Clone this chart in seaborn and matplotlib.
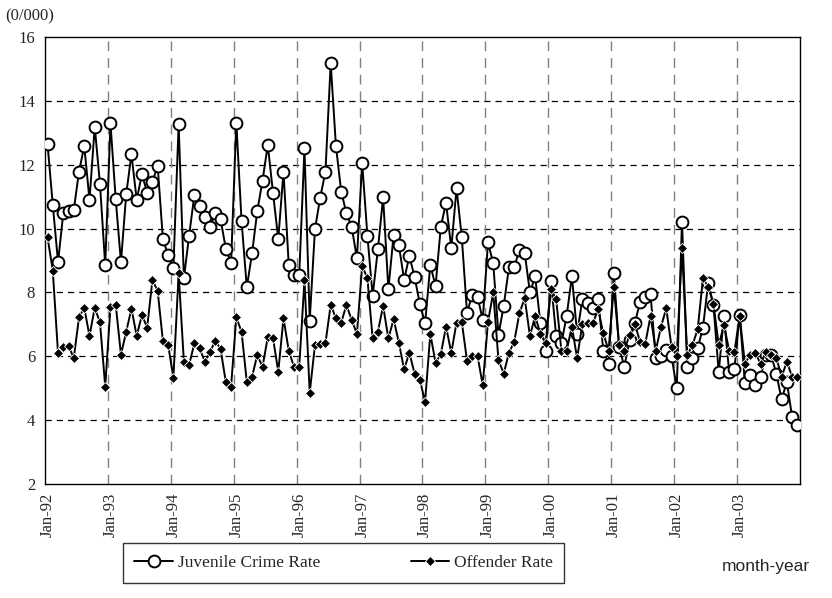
import matplotlib
matplotlib.use('Agg')
import matplotlib.pyplot as plt
from matplotlib.lines import Line2D
import seaborn as sns
import pandas as pd
import numpy as np

# monthly series, Jan-92 .. Dec-03 (per 10,000)
year_labels = ['Jan-92', 'Jan-93', 'Jan-94', 'Jan-95', 'Jan-96', 'Jan-97',
               'Jan-98', 'Jan-99', 'Jan-00', 'Jan-01', 'Jan-02', 'Jan-03']

juvenile_rate = [
    12.64, 10.74, 8.95, 10.48, 10.55, 10.58, 11.78, 12.59, 10.9, 13.19, 11.39, 8.85,
    13.3, 10.92, 8.95, 11.07, 12.33, 10.9, 11.71, 11.12, 11.47, 11.96, 9.67, 9.17,
    8.77, 13.27, 8.44, 9.78, 11.05, 10.72, 10.37, 10.04, 10.5, 10.29, 9.37, 8.93,
    13.32, 10.24, 8.16, 9.22, 10.55, 11.5, 12.62, 11.12, 9.67, 11.78, 8.86, 8.55,
    8.55, 12.51, 7.12, 9.98, 10.97, 11.78, 15.18, 12.59, 11.16, 10.48, 10.06, 9.07,
    12.06, 9.78, 7.89, 9.35, 10.98, 8.1, 9.8, 9.49, 8.39, 9.14, 8.49, 7.64,
    7.03, 8.86, 8.2, 10.06, 10.81, 9.38, 11.26, 9.73, 7.37, 7.92, 7.87, 7.14,
    9.57, 8.91, 6.67, 7.58, 8.79, 8.79, 9.33, 9.24, 8.0, 8.5, 7.03, 6.18,
    8.37, 6.64, 6.41, 7.26, 8.51, 6.7, 7.79, 7.68, 7.5, 7.79, 6.18, 5.77,
    8.6, 6.3, 5.67, 6.5, 7.03, 7.7, 7.85, 7.95, 5.94, 6.0, 6.2, 6.0,
    5.0, 10.22, 5.67, 5.94, 6.25, 6.9, 8.3, 7.6, 5.5, 7.26, 5.5, 5.6,
    7.3, 5.15, 5.4, 5.1, 5.35, 6.05, 6.05, 5.45, 4.65, 5.2, 4.1, 3.85,
]

offender_rate = [
    9.73, 8.68, 6.09, 6.3, 6.33, 5.94, 7.22, 7.52, 6.64, 7.52, 7.06, 5.05,
    7.55, 7.62, 6.05, 6.77, 7.49, 6.64, 7.29, 6.9, 8.39, 8.05, 6.48, 6.35,
    5.33, 8.6, 5.83, 5.73, 6.41, 6.25, 5.83, 6.14, 6.49, 6.22, 5.2, 5.05,
    7.22, 6.77, 5.2, 5.36, 6.04, 5.67, 6.6, 6.57, 5.52, 7.19, 6.18, 5.67,
    5.67, 8.39, 4.86, 6.35, 6.38, 6.41, 7.61, 7.19, 7.05, 7.61, 7.14, 6.7,
    8.83, 8.44, 6.56, 6.77, 7.58, 6.56, 7.16, 6.43, 5.59, 6.11, 5.46, 5.26,
    4.58, 6.7, 5.8, 6.07, 6.93, 6.11, 7.05, 7.08, 5.86, 6.01, 6.01, 5.1,
    7.08, 8.0, 5.88, 5.46, 6.11, 6.46, 7.35, 7.82, 6.64, 7.26, 6.7, 6.43,
    8.1, 7.79, 6.18, 6.18, 6.93, 5.94, 7.01, 7.03, 7.03, 7.47, 6.72, 6.18,
    8.18, 6.35, 6.18, 6.67, 7.01, 6.46, 6.4, 7.26, 6.18, 6.93, 7.5, 6.3,
    6.0, 9.38, 6.04, 6.35, 6.86, 8.44, 8.18, 7.64, 6.35, 6.98, 6.18, 6.14,
    7.26, 5.77, 6.04, 6.09, 5.77, 6.14, 6.04, 5.94, 5.36, 5.83, 5.36, 5.36,
]

y_ticks = [2, 4, 6, 8, 10, 12, 14, 16]

df = pd.DataFrame({
    'month': np.arange(len(juvenile_rate)),
    'juvenile': juvenile_rate,
    'offender': offender_rate,
})

sns.set_style('white')
plt.rcParams['font.family'] = ['Liberation Serif', 'DejaVu Serif']

fig = plt.figure(figsize=(8.32, 5.98), dpi=100)
ax = fig.add_axes([0.054, 0.1906, 0.9075, 0.7475])

# Juvenile crime rate: open circles
sns.lineplot(data=df, x='month', y='juvenile', ax=ax, color='black', linewidth=1.4,
             marker='o', markersize=8.5, markerfacecolor='white',
             markeredgecolor='black', markeredgewidth=1.4, zorder=3)
# Offender rate: small black diamonds
sns.lineplot(data=df, x='month', y='offender', ax=ax, color='black', linewidth=1.4,
             marker='D', markersize=5, markerfacecolor='black',
             markeredgecolor='white', markeredgewidth=0.6, zorder=4)

n = len(juvenile_rate)
ax.set_xlim(-0.5, n - 0.5)
ax.set_ylim(2, 16)
ax.set_yticks(y_ticks)
ax.set_yticklabels([str(t) for t in y_ticks], fontsize=12)
ax.set_xticks(np.arange(0, n, 12))
ax.set_xticklabels(year_labels, rotation=90, fontsize=12)
ax.tick_params(axis='x', length=0, pad=6)
ax.tick_params(axis='y', length=4, width=1, direction='out', color='black', pad=3)
ax.set_xlabel('')
ax.set_ylabel('')

# dashed grid
for yv in y_ticks[1:-1]:
    ax.axhline(yv, color='black', linestyle=(0, (5, 4)), linewidth=0.9, zorder=1)
for xv in np.arange(12, n, 12) - 0.5:
    ax.axvline(xv, color='#808080', linestyle=(0, (7, 5)), linewidth=1.0, zorder=1)

for sp in ax.spines.values():
    sp.set_color('black')
    sp.set_linewidth(1.0)

fig.text(0.006, 0.972, '(0/000)', fontsize=12, ha='left', va='center')
fig.text(0.868, 0.052, 'month-year', fontsize=12.5, ha='left', va='center',
         family=['Liberation Sans', 'DejaVu Sans'])

handles = [
    Line2D([], [], color='black', linewidth=1.4, marker='o', markersize=8.5,
           markerfacecolor='white', markeredgecolor='black', markeredgewidth=1.4),
    Line2D([], [], color='black', linewidth=1.4, marker='D', markersize=5,
           markerfacecolor='black', markeredgecolor='white', markeredgewidth=0.6),
]
leg = fig.legend(handles, ['Juvenile Crime Rate', 'Offender Rate'], ncol=2,
                 loc='center', bbox_to_anchor=(0.413, 0.0585), fontsize=12.5,
                 frameon=True, fancybox=False, edgecolor='black', handlelength=2.2,
                 columnspacing=5.2, borderpad=0.66, handletextpad=0.3)
leg.get_frame().set_linewidth(1.0)

fig.savefig('out.png', dpi=100)
plt.close(fig)
